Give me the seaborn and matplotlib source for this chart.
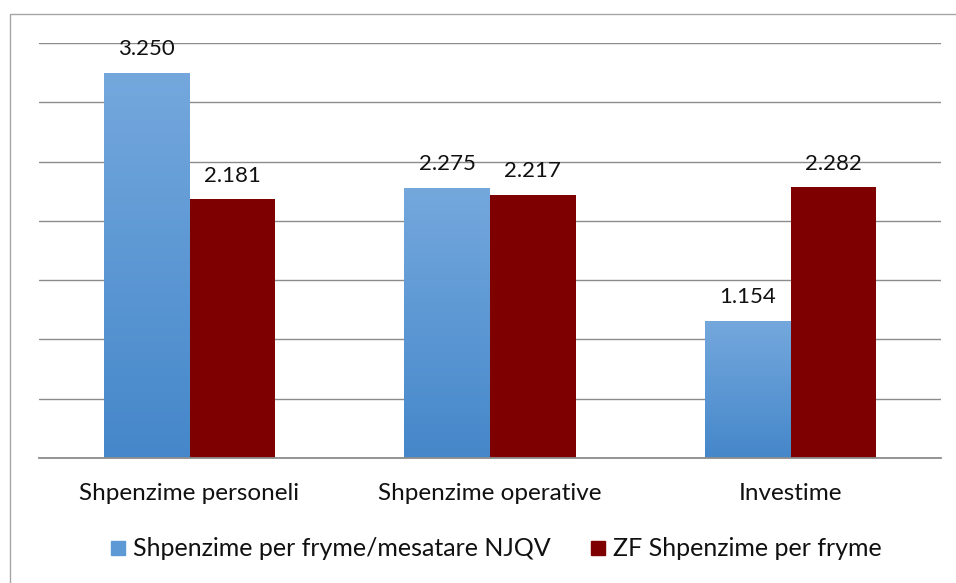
import numpy as np
import pandas as pd
import matplotlib
matplotlib.use("Agg")
import matplotlib.pyplot as plt
from matplotlib.colors import LinearSegmentedColormap
from matplotlib.patches import Rectangle
from matplotlib.lines import Line2D
import seaborn as sns

categories = ["Shpenzime personeli", "Shpenzime operative", "Investime"]
series_names = ["Shpenzime per fryme/mesatare NJQV", "ZF Shpenzime per fryme"]
njqv_values = [3.250, 2.275, 1.154]
zf_values = [2.181, 2.217, 2.282]

blue_top = "#74A8DD"
blue_bottom = "#4587CA"
blue_mid = "#5C99D5"
dark_red = "#7F0000"
grid_gray = "#8C8C8C"

df = pd.DataFrame({
    "category": categories * 2,
    "series": [series_names[0]] * 3 + [series_names[1]] * 3,
    "value": njqv_values + zf_values,
})

sns.set_theme(style="white")
plt.rcParams["font.family"] = ["Lato", "DejaVu Sans"]

W, H = 956, 583
fig = plt.figure(figsize=(W / 100, H / 100), dpi=100)
ax = fig.add_axes([39 / W, (H - 458) / H, (941 - 39) / W, (458 - 43) / H])

sns.barplot(data=df, x="category", y="value", hue="series",
            palette=[blue_mid, dark_red], width=0.57, saturation=1,
            linewidth=0, legend=False, ax=ax)

ax.set_xlim(-0.5, 2.5)
ax.set_ylim(0, 3.5)
ax.set_yticks(np.arange(0, 3.51, 0.5))
ax.yaxis.grid(True, color=grid_gray, linewidth=1.0)
ax.set_axisbelow(True)
ax.tick_params(axis="y", left=False, labelleft=False)
ax.set_xlabel("")
ax.set_ylabel("")

for side in ["top", "right", "left"]:
    ax.spines[side].set_visible(False)
ax.spines["bottom"].set_color(grid_gray)
ax.spines["bottom"].set_linewidth(1.3)

# category labels at group centres, tick marks at group boundaries
ax.set_xticks(range(len(categories)))
ax.set_xticklabels(categories, fontsize=17.5, color="#111111")
ax.tick_params(axis="x", which="major", length=0, pad=18)
ax.set_xticks([-0.5, 0.5, 1.5, 2.5], minor=True)
ax.tick_params(axis="x", which="minor", length=5.5, width=1.2, color=grid_gray)

# vertical gradient on the blue bars
cmap = LinearSegmentedColormap.from_list("blue_grad", [blue_bottom, blue_top])
grad = np.linspace(0, 1, 256).reshape(-1, 1)
for patch in ax.containers[0]:
    x0, y0 = patch.get_x(), patch.get_y()
    w, h = patch.get_width(), patch.get_height()
    im = ax.imshow(grad, cmap=cmap, origin="lower", aspect="auto",
                   extent=[x0, x0 + w, y0, y0 + h], zorder=patch.get_zorder() + 0.1)
    im.set_clip_path(patch)
ax.set_xlim(-0.5, 2.5)
ax.set_ylim(0, 3.5)

for cont, vals in zip(ax.containers, [njqv_values, zf_values]):
    ax.bar_label(cont, labels=[f"{v:.3f}" for v in vals], padding=10,
                 fontsize=16, color="#111111")

handles = [Line2D([], [], marker="s", linestyle="", markersize=10.5,
                  markerfacecolor=c, markeredgecolor=c) for c in [blue_mid, dark_red]]
fig.legend(handles, series_names, loc="center", bbox_to_anchor=(496 / W, 1 - 549 / H),
           ncol=2, frameon=False, fontsize=18, handlelength=0.6, handletextpad=0.3,
           columnspacing=1.6, labelcolor="#111111", borderpad=0)

# chart area frame
fig.add_artist(Rectangle((9.5 / W, -0.1), 1.2, (H - 13.5) / H + 0.1,
                         transform=fig.transFigure, fill=False,
                         edgecolor="#A6A6A6", linewidth=1.0))

fig.savefig("out.png", dpi=100, facecolor="white")
